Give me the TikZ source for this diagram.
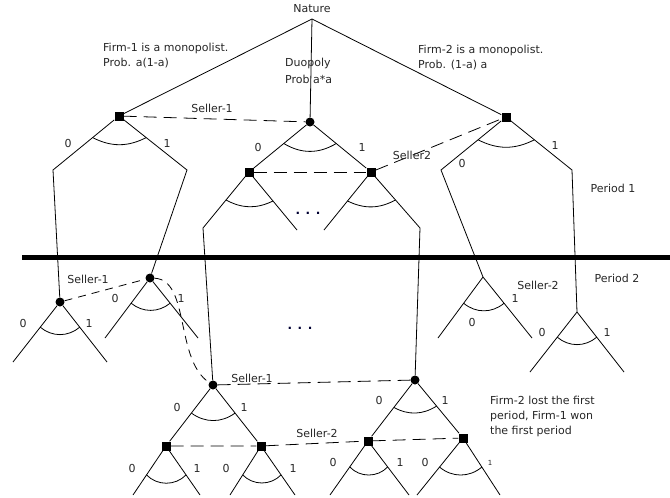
\documentclass[tikz,border=0pt]{standalone}
\usepackage{fontspec}
\setmainfont{DejaVu Sans}
\usetikzlibrary{calc}
\newcommand{\swing}[5]{\draw[br] ($(#1)!#4!(#2)$) to[bend right=#5] ($(#1)!#4!(#3)$);}
\begin{document}
\begin{tikzpicture}[x=1pt,y=-1pt,
  sq/.style={rectangle,fill=black,minimum size=9pt,inner sep=0pt},
  dt/.style={circle,fill=black,minimum size=9pt,inner sep=0pt},
  br/.style={line width=0.8pt},
  info/.style={line width=0.8pt,dash pattern=on 13pt off 7pt},
  infoshort/.style={line width=0.8pt,dash pattern=on 8pt off 6pt},
  lbl/.style={font=\fontsize{11}{15}\selectfont,text=black!85,inner sep=0pt},
  blk/.style={lbl,align=left,anchor=north west},
  dots/.style={font=\fontsize{12}{12}\selectfont\bfseries,text=black!80!blue,inner sep=0pt}]
\useasboundingbox (0,0) rectangle (670,498);

% ---- period divider
\coordinate (barL) at (22,257);
\coordinate (barR) at (670,257);
\draw[line width=5pt] (barL) -- (barR);

% ---- nodes
\node[lbl] (nat) at (312,9) {Nature};
\coordinate (top) at (312,19);
\node[sq] (L1) at (119,116) {};
\node[dt] (M1) at (310,122) {};
\node[sq] (R1) at (506,117) {};
\node[sq] (M2L) at (249,172) {};
\node[sq] (M2R) at (371,172) {};
\node[dt] (L2) at (60,302) {};
\node[dt] (L3) at (150,278) {};
\coordinate (R2) at (483,277);
\coordinate (R3) at (577,312);
\node[dt] (B1) at (213,385) {};
\node[dt] (B2) at (415,380) {};
\node[sq] (C1) at (166,446) {};
\node[sq] (C2) at (261,446) {};
\node[sq] (C3) at (368,441) {};
\node[sq] (C4) at (463,438) {};

% bend / end coordinates
\coordinate (L1a) at (53,170);
\coordinate (L1b) at (187,170);
\coordinate (R1a) at (441,170);
\coordinate (R1b) at (572,170);
\coordinate (M2La) at (203,228);
\coordinate (M2Lb) at (297,230);
\coordinate (M2Ra) at (324,230);
\coordinate (M2Rb) at (420,228);
\coordinate (L2a) at (13,362);
\coordinate (L2b) at (107,362);
\coordinate (L3a) at (105,338);
\coordinate (L3b) at (198,338);
\coordinate (R2a) at (438,338);
\coordinate (R2b) at (532,338);
\coordinate (R3a) at (530,372);
\coordinate (R3b) at (624,372);
\coordinate (C1a) at (133,495);
\coordinate (C1b) at (200,495);
\coordinate (C2a) at (230,495);
\coordinate (C2b) at (295,495);
\coordinate (C3a) at (330,495);
\coordinate (C3b) at (409,495);
\coordinate (C4a) at (417,495);
\coordinate (C4b) at (500,495);

% ---- branches
\draw[br] (top) -- (L1);
\draw[br] (top) -- (M1);
\draw[br] (top) -- (R1);
\draw[br] (L1) -- (L1a) -- (L2);
\draw[br] (L1) -- (L1b) -- (L3);
\draw[br] (M1) -- (M2L);
\draw[br] (M1) -- (M2R);
\draw[br] (M2L) -- (M2La) -- (B1);
\draw[br] (M2L) -- (M2Lb);
\draw[br] (M2R) -- (M2Ra);
\draw[br] (M2R) -- (M2Rb) -- (B2);
\draw[br] (R1) -- (R1a) -- (R2);
\draw[br] (R1) -- (R1b) -- (R3);
\draw[br] (L2) -- (L2a);
\draw[br] (L2) -- (L2b);
\draw[br] (L3) -- (L3a);
\draw[br] (L3) -- (L3b);
\draw[br] (R2) -- (R2a);
\draw[br] (R2) -- (R2b);
\draw[br] (R3) -- (R3a);
\draw[br] (R3) -- (R3b);
\draw[br] (B1) -- (C1);
\draw[br] (B1) -- (C2);
\draw[br] (B2) -- (C3);
\draw[br] (B2) -- (C4);
\draw[br] (C1) -- (C1a);
\draw[br] (C1) -- (C1b);
\draw[br] (C2) -- (C2a);
\draw[br] (C2) -- (C2b);
\draw[br] (C3) -- (C3a);
\draw[br] (C3) -- (C3b);
\draw[br] (C4) -- (C4a);
\draw[br] (C4) -- (C4b);

% ---- choice arcs
\swing{L1}{L1a}{L1b}{0.4}{27}
\swing{M1}{M2L}{M2R}{0.43}{31}
\swing{R1}{R1a}{R1b}{0.43}{27}
\swing{M2L}{M2La}{M2Lb}{0.5}{27}
\swing{M2R}{M2Ra}{M2Rb}{0.5}{27}
\swing{L2}{L2a}{L2b}{0.42}{40}
\swing{L3}{L3a}{L3b}{0.42}{39}
\swing{R2}{R2a}{R2b}{0.43}{40}
\swing{R3}{R3a}{R3b}{0.42}{40}
\swing{B1}{C1}{C2}{0.46}{36}
\swing{B2}{C3}{C4}{0.45}{30}
\swing{C1}{C1a}{C1b}{0.59}{46}
\swing{C2}{C2a}{C2b}{0.59}{46}
\swing{C3}{C3a}{C3b}{0.48}{47}
\swing{C4}{C4a}{C4b}{0.51}{40}

% ---- information sets
\draw[info] (L1) -- (M1);
\draw[info] (M2L) -- (M2R);
\draw[info] (M2R) -- (R1);
\draw[infoshort] (L2) -- (L3);
\draw[infoshort] (L3) .. controls (190,280) and (175,360) .. (B1);
\draw[info] (B1) -- (B2);
\draw[info] (C1) -- (C2) -- (C3) -- (C4);

% ---- texts
\node[blk] (t1) at (103,43) {Firm-1 is a monopolist.\\Prob. a(1-a)};
\node[blk,font=\fontsize{11}{16.5}\selectfont] (t2) at (285,58) {Duopoly\\Prob a*a};
\node[blk] (t3) at (418,45) {Firm-2 is a monopolist.\\Prob. (1-a) a};
\node[blk] (t4) at (490,396) {Firm-2 lost the first\\period, Firm-1 won\\the first period};

\node[lbl] at (212,108) {Seller-1};
\node[lbl] at (412,155) {Seller2};
\node[lbl] at (88,279) {Seller-1};
\node[lbl] at (538,285) {Seller-2};
\node[lbl] at (252,378) {Seller-1};
\node[lbl] at (317,433) {Seller-2};
\node[lbl] at (613,188) {Period 1};
\node[lbl] at (617,278) {Period 2};

\node[dots] at (308,213) {. . .};
\node[dots] at (300,328) {. . .};

\node[lbl] at (68,143) {0};
\node[lbl] at (167,143) {1};
\node[lbl] at (258,147) {0};
\node[lbl] at (362,147) {1};
\node[lbl] at (462,163) {0};
\node[lbl] at (555,145) {1};
\node[lbl] at (23,323) {0};
\node[lbl] at (89,323) {1};
\node[lbl] at (115,298) {0};
\node[lbl] at (181,298) {1};
\node[lbl] at (472,322) {0};
\node[lbl] at (515,298) {1};
\node[lbl] at (542,332) {0};
\node[lbl] at (607,332) {1};
\node[lbl] at (177,407) {0};
\node[lbl] at (244,407) {1};
\node[lbl] at (379,400) {0};
\node[lbl] at (445,400) {1};
\node[lbl] at (132,468) {0};
\node[lbl] at (197,468) {1};
\node[lbl] at (226,468) {0};
\node[lbl] at (293,468) {1};
\node[lbl] at (333,462) {0};
\node[lbl] at (400,462) {1};
\node[lbl] at (425,462) {0};
\node[lbl,font=\fontsize{7}{8}\selectfont] at (490,463) {1};
\end{tikzpicture}
\end{document}
